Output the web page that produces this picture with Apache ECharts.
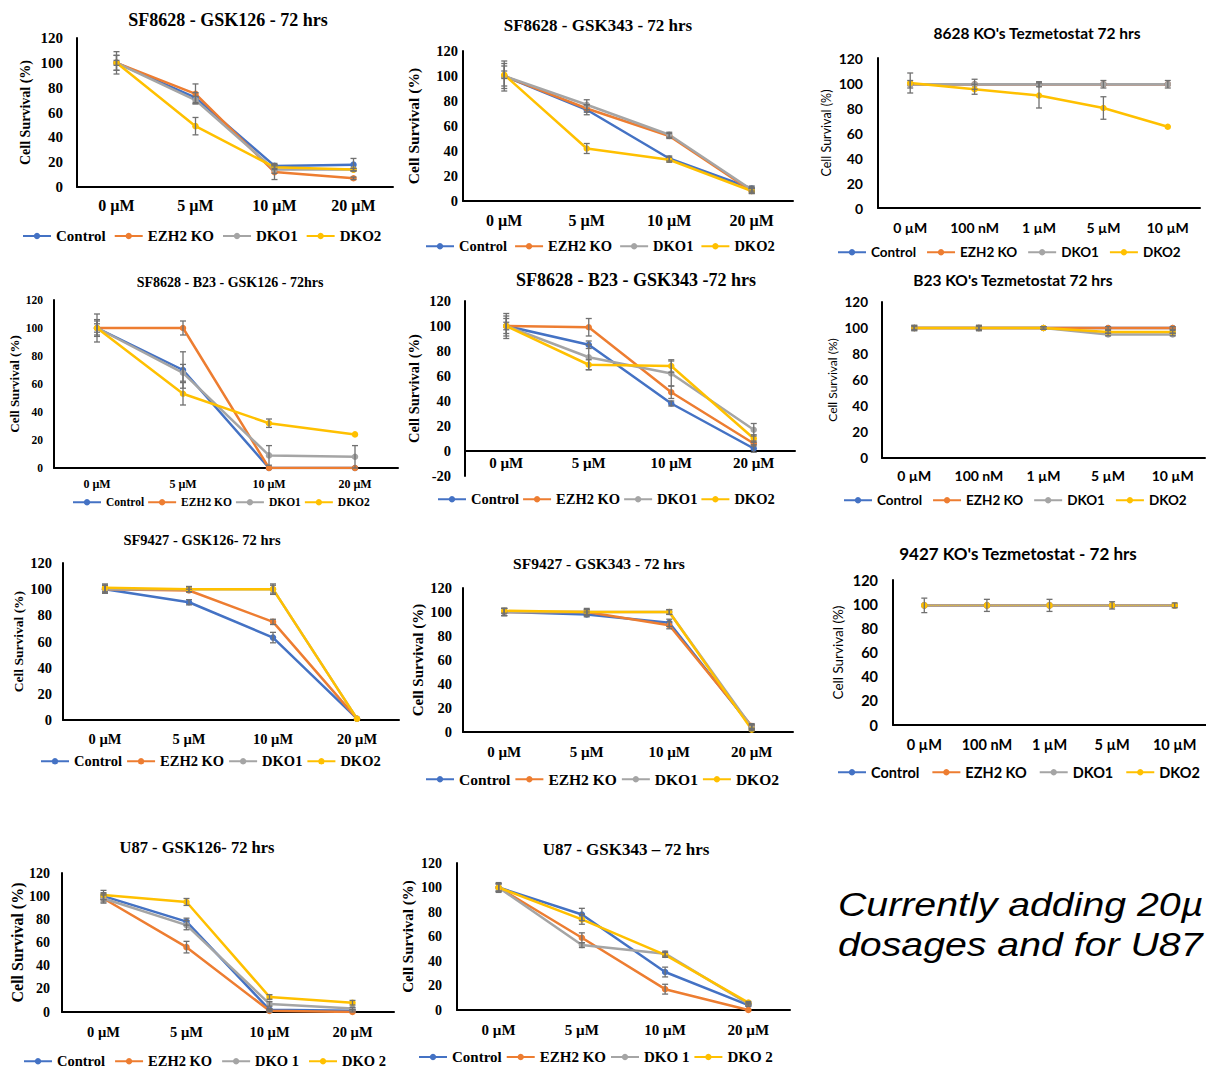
<!DOCTYPE html>
<html><head><meta charset="utf-8">
<script src="https://cdn.jsdelivr.net/npm/echarts@6/dist/echarts.min.js"></script>
<style>html,body{margin:0;padding:0;background:#fff}#c{width:1206px;height:1070px}</style>
</head><body><div id="c"></div>
<script>
// ---------- categories & labels ----------
const doses4 = ['0 µM', '5 µM', '10 µM', '20 µM'];
const doses5 = ['0 µM', '100 nM', '1 µM', '5 µM', '10 µM'];
const names = ['Control', 'EZH2 KO', 'DKO1', 'DKO2'];
const namesU87 = ['Control', 'EZH2 KO', 'DKO 1', 'DKO 2'];
const yTicks = [-20, 0, 20, 40, 60, 80, 100, 120];
const panelTitles = [
  'SF8628 - GSK126 - 72 hrs', 'SF8628 - GSK343 - 72 hrs', "8628 KO's Tezmetostat 72 hrs",
  'SF8628 - B23 - GSK126 - 72hrs', 'SF8628 - B23 - GSK343 -72 hrs', "B23 KO's Tezmetostat 72 hrs",
  'SF9427 - GSK126- 72 hrs', 'SF9427 - GSK343 - 72 hrs', "9427 KO's Tezmetostat - 72 hrs",
  'U87 - GSK126- 72 hrs', 'U87 - GSK343 \u2013 72 hrs'
];
const yAxisTitle = 'Cell Survival (%)';
const noteLines = ['Currently adding 20µ', 'dosages and for U87'];

// ---------- values (mean %) and error bars ----------
// Panel 1: SF8628 - GSK126
const p1Control = [100, 72, 17, 18], p1ControlErr = [6, 4, 2, 5];
const p1Ezh2 = [100, 75, 12, 7],     p1Ezh2Err = [9, 8, 6, 1];
const p1Dko1 = [100, 70, 14, 14],    p1Dko1Err = [6, 3, 3, 1];
const p1Dko2 = [100, 49, 16, 14],    p1Dko2Err = [2, 7, 2, 1];
// Panel 2: SF8628 - GSK343
const p2Control = [100, 73, 34, 10], p2ControlErr = [10, 4, 2, 2];
const p2Ezh2 = [100, 74, 52, 8],     p2Ezh2Err = [12, 3, 2, 2];
const p2Dko1 = [100, 77, 53, 9],     p2Dko1Err = [8, 4, 2, 2];
const p2Dko2 = [101, 42, 33, 8],     p2Dko2Err = [3, 4, 2, 2];
// Panel 3: 8628 KO's Tezmetostat
const p3Control = [99, 99, 99, 99, 99], p3ControlErr = [0, 0, 0, 0, 0];
const p3Ezh2 = [99, 99, 99, 99, 99],    p3Ezh2Err = [0, 0, 0, 0, 0];
const p3Dko1 = [99, 99, 99, 99, 99],    p3Dko1Err = [3, 4, 2, 3, 3];
const p3Dko2 = [100, 95, 90, 80, 65],   p3Dko2Err = [8, 4, 10, 9, 0];
// Panel 4: SF8628 - B23 - GSK126
const p4Control = [100, 70, 0, 0],  p4ControlErr = [10, 13, 0, 0];
const p4Ezh2 = [100, 100, 0, 0],    p4Ezh2Err = [5, 5, 0, 0];
const p4Dko1 = [100, 68, 9, 8],     p4Dko1Err = [6, 6, 7, 8];
const p4Dko2 = [100, 53, 32, 24],   p4Dko2Err = [3, 8, 3, 0];
// Panel 5: SF8628 - B23 - GSK343
const p5Control = [100, 85, 38, 2], p5ControlErr = [10, 3, 2, 3];
const p5Ezh2 = [100, 99, 47, 6],    p5Ezh2Err = [8, 7, 5, 2];
const p5Dko1 = [100, 75, 62, 17],   p5Dko1Err = [6, 10, 10, 5];
const p5Dko2 = [100, 69, 68, 10],   p5Dko2Err = [3, 4, 5, 3];
// Panel 6: B23 KO's Tezmetostat
const p6Control = [100, 100, 100, 100, 100], p6ControlErr = [0, 0, 0, 0, 0];
const p6Ezh2 = [100, 100, 100, 100, 100],    p6Ezh2Err = [1, 1, 1, 1, 1];
const p6Dko1 = [100, 100, 100, 95, 95],      p6Dko1Err = [2, 2, 1, 1, 1];
const p6Dko2 = [100, 100, 100, 97, 97],      p6Dko2Err = [2, 2, 1, 1, 1];
// Panel 7: SF9427 - GSK126
const p7Control = [100, 90, 63, 1], p7ControlErr = [3, 2, 4, 0];
const p7Ezh2 = [100, 99, 75, 1],    p7Ezh2Err = [3, 1, 2, 0];
const p7Dko1 = [100, 100, 100, 1],  p7Dko1Err = [3, 2, 4, 0];
const p7Dko2 = [101, 100, 100, 1],  p7Dko2Err = [3, 2, 3, 0];
// Panel 8: SF9427 - GSK343
const p8Control = [100, 98, 91, 4], p8ControlErr = [3, 2, 3, 2];
const p8Ezh2 = [100, 100, 89, 5],   p8Ezh2Err = [3, 2, 3, 2];
const p8Dko1 = [100, 100, 100, 4],  p8Dko1Err = [3, 3, 2, 2];
const p8Dko2 = [101, 100, 100, 2],  p8Dko2Err = [2, 2, 2, 1];
// Panel 9: 9427 KO's Tezmetostat
const p9Control = [99, 99, 99, 99, 99], p9ControlErr = [0, 0, 0, 0, 0];
const p9Ezh2 = [99, 99, 99, 99, 99],    p9Ezh2Err = [0, 0, 0, 0, 0];
const p9Dko1 = [99, 99, 99, 99, 99],    p9Dko1Err = [6, 5, 5, 3, 2];
const p9Dko2 = [99, 99, 99, 99, 99],    p9Dko2Err = [0, 0, 0, 0, 0];
// Panel 10: U87 - GSK126
const p10Control = [100, 78, 2, 1], p10ControlErr = [3, 3, 1, 1];
const p10Ezh2 = [98, 56, 1, 0],     p10Ezh2Err = [3, 5, 1, 0];
const p10Dko1 = [98, 75, 7, 3],     p10Dko1Err = [4, 4, 2, 1];
const p10Dko2 = [101, 95, 13, 8],   p10Dko2Err = [4, 3, 2, 2];
// Panel 11: U87 - GSK343
const p11Control = [100, 78, 31, 4], p11ControlErr = [4, 5, 4, 1];
const p11Ezh2 = [100, 59, 17, 0],    p11Ezh2Err = [3, 4, 4, 0];
const p11Dko1 = [100, 53, 46, 5],    p11Dko1Err = [3, 2, 2, 1];
const p11Dko2 = [100, 74, 45, 6],    p11Dko2Err = [3, 4, 2, 1];

// ---------- styling ----------
const SERIF = '"Liberation Serif", "Times New Roman", serif';
const SANS = 'Lato, "Noto Sans", sans-serif';
const COLORS = ['#4472C4', '#ED7D31', '#A5A5A5', '#FFC000'];
const ERR_COLOR = '#707070';

// box: [left, top, right, bottom] of plot area
const panels = [
  { t: 0, cats: doses4, nm: names, v: [p1Control, p1Ezh2, p1Dko1, p1Dko2], e: [p1ControlErr, p1Ezh2Err, p1Dko1Err, p1Dko2Err],
    yMin: 0, box: [77, 38, 393, 187], tXY: [228, 20], lXY: [22, 237], lGap: 8, ff: SERIF,
    fs: { t: 18, tick: 15, xl: 16, leg: 15, yn: 14 }, ynW: 'bold', ylM: 14, xlM: 10, nGap: 45 },
  { t: 1, cats: doses4, nm: names, v: [p2Control, p2Ezh2, p2Dko1, p2Dko2], e: [p2ControlErr, p2Ezh2Err, p2Dko1Err, p2Dko2Err],
    yMin: 0, box: [463, 51, 793, 201], tXY: [598, 25], lXY: [425, 247], lGap: 7, ff: SERIF,
    fs: { t: 17, tick: 14.5, xl: 16, leg: 14.5, yn: 15.5 }, ynW: 'bold', ylM: 5, xlM: 11, nGap: 42 },
  { t: 2, cats: doses5, nm: names, v: [p3Control, p3Ezh2, p3Dko1, p3Dko2], e: [p3ControlErr, p3Ezh2Err, p3Dko1Err, p3Dko2Err],
    yMin: 0, box: [878, 58, 1200, 208], tXY: [1037, 33], lXY: [837, 253], lGap: 10, ff: SANS,
    fs: { t: 15.5, tick: 14, xl: 14, leg: 13.5, yn: 12.5 }, ynW: 'normal', ylM: 15, xlM: 12, nGap: 45 },
  { t: 3, cats: doses4, nm: names, v: [p4Control, p4Ezh2, p4Dko1, p4Dko2], e: [p4ControlErr, p4Ezh2Err, p4Dko1Err, p4Dko2Err],
    yMin: 0, box: [54, 300, 398, 468], tXY: [230, 282], lXY: [72, 503], lGap: 3, ff: SERIF,
    fs: { t: 14, tick: 11.5, xl: 12, leg: 11.5, yn: 13 }, ynW: 'bold', ylM: 11, xlM: 10, nGap: 33 },
  { t: 4, cats: doses4, nm: names, v: [p5Control, p5Ezh2, p5Dko1, p5Dko2], e: [p5ControlErr, p5Ezh2Err, p5Dko1Err, p5Dko2Err],
    yMin: -20, box: [465, 301, 795, 476], tXY: [636, 280], lXY: [437, 500], lGap: 3, ff: SERIF,
    fs: { t: 18, tick: 14.5, xl: 15, leg: 14.5, yn: 14.5 }, ynW: 'bold', ylM: 14, xlM: -21, nGap: 44 },
  { t: 5, cats: doses5, nm: names, v: [p6Control, p6Ezh2, p6Dko1, p6Dko2], e: [p6ControlErr, p6Ezh2Err, p6Dko1Err, p6Dko2Err],
    yMin: 0, box: [882, 302, 1205, 458], tXY: [1013, 280], lXY: [843, 501], lGap: 10, ff: SANS,
    fs: { t: 15.5, tick: 13.5, xl: 14, leg: 13.5, yn: 12 }, ynW: 'normal', ylM: 14, xlM: 10, nGap: 44 },
  { t: 6, cats: doses4, nm: names, v: [p7Control, p7Ezh2, p7Dko1, p7Dko2], e: [p7ControlErr, p7Ezh2Err, p7Dko1Err, p7Dko2Err],
    yMin: 0, box: [63, 563, 399, 720], tXY: [202, 540], lXY: [40, 762], lGap: 4, ff: SERIF,
    fs: { t: 14.5, tick: 14.5, xl: 14.5, leg: 14.5, yn: 13.5 }, ynW: 'bold', ylM: 11, xlM: 11, nGap: 38 },
  { t: 7, cats: doses4, nm: names, v: [p8Control, p8Ezh2, p8Dko1, p8Dko2], e: [p8ControlErr, p8Ezh2Err, p8Dko1Err, p8Dko2Err],
    yMin: 0, box: [463, 588, 793, 732], tXY: [599, 563], lXY: [425, 780], lGap: 4, ff: SERIF,
    fs: { t: 15.5, tick: 14.5, xl: 15, leg: 15.5, yn: 15 }, ynW: 'bold', ylM: 11, xlM: 12, nGap: 38 },
  { t: 8, cats: doses5, nm: names, v: [p9Control, p9Ezh2, p9Dko1, p9Dko2], e: [p9ControlErr, p9Ezh2Err, p9Dko1Err, p9Dko2Err],
    yMin: 0, box: [893, 580, 1206, 725], tXY: [1018, 553], lXY: [837, 773], lGap: 12, ff: SANS,
    fs: { t: 17, tick: 14.5, xl: 14.5, leg: 14.5, yn: 13.5 }, ynW: 'normal', ylM: 15, xlM: 12, nGap: 48, dotted: true },
  { t: 9, cats: doses4, nm: namesU87, v: [p10Control, p10Ezh2, p10Dko1, p10Dko2], e: [p10ControlErr, p10Ezh2Err, p10Dko1Err, p10Dko2Err],
    yMin: 0, box: [62, 873, 394, 1012], tXY: [197, 847], lXY: [23, 1062], lGap: 9, ff: SERIF,
    fs: { t: 16.5, tick: 14, xl: 14.5, leg: 14.5, yn: 16 }, ynW: 'bold', ylM: 12, xlM: 12, nGap: 36 },
  { t: 10, cats: doses4, nm: namesU87, v: [p11Control, p11Ezh2, p11Dko1, p11Dko2], e: [p11ControlErr, p11Ezh2Err, p11Dko1Err, p11Dko2Err],
    yMin: 0, box: [457, 863, 790, 1010], tXY: [626, 849], lXY: [418, 1058], lGap: 4, ff: SERIF,
    fs: { t: 17, tick: 14, xl: 15, leg: 15, yn: 15 }, ynW: 'bold', ylM: 15, xlM: 12, nGap: 42 }
];

const option = {
  animation: false,
  backgroundColor: '#fff',
  title: [], legend: [], grid: [], xAxis: [], yAxis: [], series: [],
  graphic: noteLines.map((txt, i) => ({
    type: 'text', x: 838, y: 905 + i * 40, scaleX: 1.19, silent: true,
    style: { text: txt, fill: '#000', font: 'italic 33px "Liberation Sans", Arial, sans-serif', verticalAlign: 'middle', align: 'left' }
  }))
};

function errRender(params, api) {
  const x = api.value(0);
  const lo = api.coord([x, api.value(1)]);
  const hi = api.coord([x, api.value(2)]);
  const c = 3;
  const st = { stroke: ERR_COLOR, lineWidth: 1.3 };
  return { type: 'group', children: [
    { type: 'line', shape: { x1: lo[0], y1: lo[1], x2: hi[0], y2: hi[1] }, style: st },
    { type: 'line', shape: { x1: lo[0] - c, y1: lo[1], x2: lo[0] + c, y2: lo[1] }, style: st },
    { type: 'line', shape: { x1: hi[0] - c, y1: hi[1], x2: hi[0] + c, y2: hi[1] }, style: st }
  ] };
}

panels.forEach((p, k) => {
  const [l, t, r, b] = p.box;
  option.grid.push({ left: l, top: t, width: r - l, height: b - t, outerBoundsMode: 'none', containLabel: false });
  option.title.push({
    text: panelTitles[p.t], left: p.tXY[0], top: p.tXY[1], padding: 0,
    textAlign: 'center', textVerticalAlign: 'middle',
    textStyle: { fontFamily: p.ff, fontWeight: 'bold', fontSize: p.fs.t, color: '#000' }
  });
  option.legend.push({
    data: p.nm, left: p.lXY[0], top: p.lXY[1] - p.fs.leg / 2 - 1, padding: 0,
    itemWidth: 28, itemHeight: 8, itemGap: p.lGap, selectedMode: false,
    textStyle: { fontFamily: p.ff, fontWeight: 'bold', fontSize: p.fs.leg, color: '#000' }
  });
  option.xAxis.push({
    type: 'category', gridIndex: k, data: p.cats, boundaryGap: true,
    axisLine: { show: true, onZero: true, lineStyle: { color: '#000', width: 2 } },
    axisTick: { show: false }, splitLine: { show: false },
    axisLabel: { interval: 0, margin: p.xlM, color: '#000', fontFamily: p.ff, fontWeight: 'bold', fontSize: p.fs.xl }
  });
  option.yAxis.push({
    type: 'value', gridIndex: k, min: p.yMin, max: yTicks[yTicks.length - 1], interval: 20,
    axisLine: { show: true, lineStyle: { color: '#000', width: 2 } },
    axisTick: { show: false }, splitLine: { show: false },
    axisLabel: { margin: p.ylM, color: '#000', fontFamily: p.ff, fontWeight: 'bold', fontSize: p.fs.tick },
    name: yAxisTitle, nameLocation: 'middle', nameGap: p.nGap, nameRotate: 90,
    nameTextStyle: { fontFamily: p.ff, fontWeight: p.ynW, fontSize: p.fs.yn, color: '#000' }
  });
  p.v.forEach((vals, s) => {
    const dotted = p.dotted && s === 3;
    option.series.push({
      type: 'line', name: p.nm[s], xAxisIndex: k, yAxisIndex: k, data: vals,
      symbol: 'circle', symbolSize: 6.5, showSymbol: true, silent: true, z: 2,
      itemStyle: { color: COLORS[s] },
      lineStyle: { color: COLORS[s], width: dotted ? 1 : 2.5, type: dotted ? 'dotted' : 'solid' },
      emphasis: { disabled: true }
    });
  });
  const errData = [];
  p.v.forEach((vals, s) => vals.forEach((v, i) => {
    const e = p.e[s][i];
    if (e > 0) errData.push([i, v - e, v + e]);
  }));
  option.series.push({
    type: 'custom', xAxisIndex: k, yAxisIndex: k, data: errData, renderItem: errRender,
    encode: { x: 0, y: [1, 2] }, silent: true, z: 3
  });
});

const chart = echarts.init(document.getElementById('c'), null, { renderer: 'svg' });
chart.setOption(option);
</script>
</body></html>
